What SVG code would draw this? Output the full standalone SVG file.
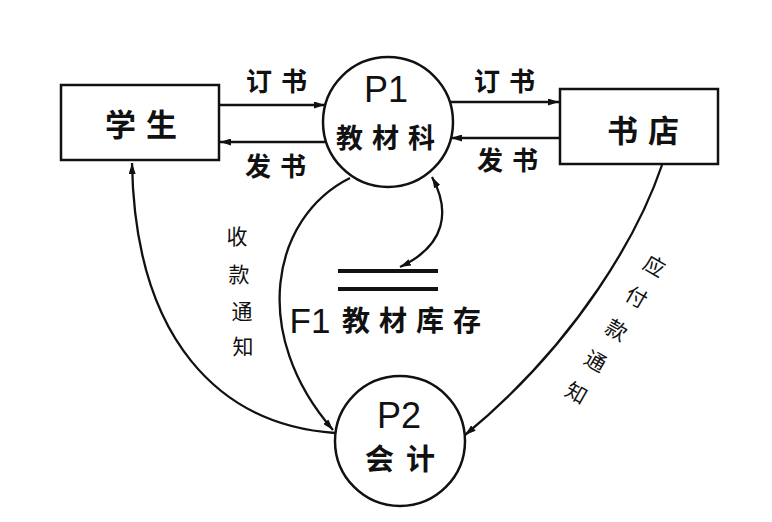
<svg xmlns="http://www.w3.org/2000/svg" width="772" height="522" viewBox="0 0 772 522">
<defs>
<marker id="ah" markerWidth="11" markerHeight="7" refX="11" refY="3.5" orient="auto-start-reverse" markerUnits="userSpaceOnUse">
<path d="M0,0 L11,3.5 L0,7 z" fill="#111"/>
</marker>
<style>
.box{fill:#fff;stroke:#111;stroke-width:2.5}
.ln{fill:none;stroke:#111;stroke-width:2.3}
.cn{font-family:"Noto Sans CJK SC","Noto Sans",sans-serif;fill:#111;text-anchor:middle;dominant-baseline:central}
.b{font-weight:bold}
.en{font-family:"Liberation Sans",Arial,sans-serif;fill:#111;text-anchor:middle}
</style>
</defs>
<rect width="772" height="522" fill="#fff"/>
<g id="connectors">
<line class="ln" x1="219" y1="105" x2="325" y2="105" marker-end="url(#ah)"/>
<line class="ln" x1="326" y1="142" x2="220" y2="142" marker-end="url(#ah)"/>
<line class="ln" x1="450" y1="102" x2="559" y2="102" marker-end="url(#ah)"/>
<line class="ln" x1="560" y1="138" x2="451" y2="138" marker-end="url(#ah)"/>
<path class="ln" d="M350,178 C270,218 250,335 333,430" marker-end="url(#ah)"/>
<path class="ln" d="M335,433 C220,425 135,340 132,163" marker-end="url(#ah)"/>
<path class="ln" d="M662,165 C640,230 580,340 465,435" marker-end="url(#ah)"/>
<path class="ln" d="M432,177 C450,210 447,245 400,267" marker-start="url(#ah)" marker-end="url(#ah)"/>
<text class="cn b" x="281" y="79" font-size="26" letter-spacing="9">订书</text>
<text class="cn b" x="280" y="164" font-size="26" letter-spacing="9">发书</text>
<text class="cn b" x="509" y="79" font-size="26" letter-spacing="9">订书</text>
<text class="cn b" x="512" y="158" font-size="26" letter-spacing="9">发书</text>
<g font-size="21">
<text class="cn" x="237" y="235">收</text>
<text class="cn" x="239" y="273">款</text>
<text class="cn" x="242" y="310">通</text>
<text class="cn" x="243" y="345">知</text>
</g>
<g font-size="21">
<text class="cn" transform="translate(655,265) rotate(30)">应</text>
<text class="cn" transform="translate(637,296) rotate(30)">付</text>
<text class="cn" transform="translate(617,329) rotate(30)">款</text>
<text class="cn" transform="translate(596,360) rotate(30)">通</text>
<text class="cn" transform="translate(577,392) rotate(30)">知</text>
</g>
</g>
<g id="student">
<rect class="box" x="61" y="85" width="158" height="75"/>
<text class="cn b" x="146" y="122" font-size="31" letter-spacing="10">学生</text>
</g>
<g id="bookstore">
<rect class="box" x="560" y="89" width="158" height="75"/>
<text class="cn b" x="648" y="128" font-size="31" letter-spacing="10">书店</text>
</g>
<g id="p1">
<circle class="box" cx="388" cy="122" r="65"/>
<text class="en" x="386" y="102" font-size="36">P1</text>
<text class="cn b" x="390" y="136" font-size="27" letter-spacing="9">教材科</text>
</g>
<g id="p2">
<circle class="box" cx="400" cy="441" r="65"/>
<text class="en" x="399" y="428" font-size="36">P2</text>
<text class="cn b" x="406" y="457" font-size="29" letter-spacing="12">会计</text>
</g>
<g id="f1">
<line x1="338" y1="271" x2="438" y2="271" stroke="#111" stroke-width="4"/>
<line x1="338" y1="289" x2="438" y2="289" stroke="#111" stroke-width="4"/>
<text class="en" x="310" y="333" font-size="35">F1</text>
<text class="cn b" x="416" y="319" font-size="28" letter-spacing="9">教材库存</text>
</g>
</svg>
